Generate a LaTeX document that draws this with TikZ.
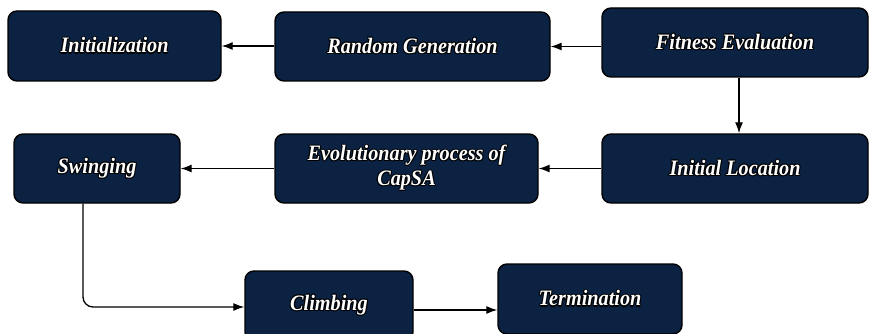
\documentclass[tikz,border=0pt]{standalone}
\usepackage{fontspec}
\setmainfont{Liberation Serif}
\newfontfamily\boxfont[FakeStretch=0.92]{Liberation Serif}
\usepackage{contour}
\contourlength{1.1pt}
\contournumber{8}
\usetikzlibrary{arrows.meta}

\definecolor{boxnavy}{HTML}{0B2242}

\newcommand{\boxtext}[1]{\contour{black}{#1}}

\tikzset{
  stepbox/.style = {draw=black, line width=1.4pt, fill=boxnavy, rounded corners=9pt,
                    text=white, align=center,
                    font=\boxfont\fontsize{22}{25}\selectfont\bfseries\itshape},
  flow/.style = {-{Latex[length=11pt,width=8pt]}, line width=1.3pt}
}

\begin{document}
\begin{tikzpicture}[x=1pt, y=-1pt]
  \useasboundingbox (0,0) rectangle (869,334);

  % first row
  \node[stepbox, minimum width=213pt, minimum height=70pt] (init) at (114.5,46) {\boxtext{Initialization}};
  \node[stepbox, minimum width=275pt, minimum height=69pt] (randgen) at (412.5,46.5) {\boxtext{Random Generation}};
  \node[stepbox, minimum width=266pt, minimum height=69pt] (fitness) at (735,42.5) {\boxtext{Fitness Evaluation}};

  % second row
  \node[stepbox, minimum width=266pt, minimum height=69pt] (initloc) at (735,168.5) {\boxtext{Initial Location}};
  \node[stepbox, minimum width=263pt, minimum height=69pt] (evol) at (406.5,168.5) {\boxtext{Evolutionary process of}\\\boxtext{CapSA}};
  \node[stepbox, minimum width=166pt, minimum height=69pt] (swing) at (97,168.5) {\boxtext{Swinging}};

  % third row
  \node[stepbox, minimum width=168pt, minimum height=70pt] (climb) at (329,306) {\boxtext{Climbing}};
  \node[stepbox, minimum width=184pt, minimum height=70pt] (term) at (590,299) {\boxtext{Termination}};

  \draw[flow] (randgen.west |- init.east) -- (init.east);
  \draw[flow] (fitness.west |- randgen.east) -- (randgen.east);
  \draw[flow] ([xshift=4pt]fitness.south) -- ([xshift=4pt]initloc.north);
  \draw[flow] (initloc.west) -- (evol.east);
  \draw[flow] (evol.west) -- (swing.east);
  \draw[flow, rounded corners=10pt] ([xshift=-14pt]swing.south) |- ([yshift=-1pt]climb.west);
  \draw[flow] ([yshift=-4pt]climb.east) -- ([yshift=-4pt]climb.east -| term.west);
\end{tikzpicture}
\end{document}
